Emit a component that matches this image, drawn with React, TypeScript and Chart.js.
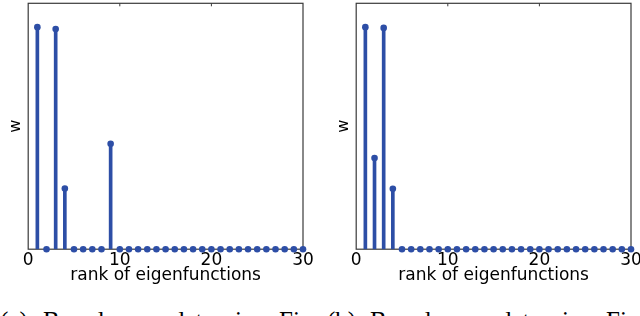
import React, { useEffect, useRef } from 'react';
import { Chart, registerables } from 'chart.js';

Chart.register(...registerables);

// ---- data ----
const ranks = [1, 2, 3, 4, 5, 6, 7, 8, 9, 10, 11, 12, 13, 14, 15, 16, 17, 18, 19, 20, 21, 22, 23, 24, 25, 26, 27, 28, 29, 30];
const weightsA = [0.903, 0, 0.895, 0.247, 0, 0, 0, 0, 0.429, 0, 0, 0, 0, 0, 0, 0, 0, 0, 0, 0, 0, 0, 0, 0, 0, 0, 0, 0, 0, 0];
const weightsB = [0.903, 0.371, 0.9, 0.246, 0, 0, 0, 0, 0, 0, 0, 0, 0, 0, 0, 0, 0, 0, 0, 0, 0, 0, 0, 0, 0, 0, 0, 0, 0, 0];
const xAxisTitle = 'rank of eigenfunctions';
const yAxisTitle = 'w';
const captionA = ['(a)', 'Based', 'on', 'data', 'in', 'Fig.'];
const captionB = ['(b)', 'Based', 'on', 'data', 'in', 'Fig.'];

// ---- style / layout ----
const STEM = '#2d4ea6';
const SANS = '"DejaVu Sans", Verdana, sans-serif';
const WORD_X = [0, 43, 126, 172, 235, 279];

const framePlugin = {
  id: 'frame',
  beforeDatasetsDraw(chart: any) {
    const { ctx, chartArea } = chart;
    const { left, right, top, bottom } = chartArea;
    ctx.save();
    ctx.strokeStyle = '#3a3a3a';
    ctx.lineWidth = 1.2;
    ctx.strokeRect(left, top, right - left, bottom - top);
    const xs = chart.scales.x;
    ctx.lineWidth = 1;
    xs.ticks.forEach((t: any) => {
      const px = xs.getPixelForValue(t.value);
      if (px <= left + 1 || px >= right - 1) return;
      ctx.beginPath();
      ctx.moveTo(px, top);
      ctx.lineTo(px, top + 3);
      ctx.moveTo(px, bottom);
      ctx.lineTo(px, bottom - 3);
      ctx.stroke();
    });
    ctx.restore();
  },
};

function Panel({ values, x }: { values: number[]; x: number }) {
  const ref = useRef<HTMLCanvasElement | null>(null);
  useEffect(() => {
    if (!ref.current) return;
    const pts = ranks.map((r, i) => ({ x: r, y: values[i] }));
    const chart = new Chart(ref.current, {
      type: 'bar',
      data: {
        datasets: [
          {
            type: 'scatter' as any,
            data: pts,
            backgroundColor: STEM,
            borderColor: STEM,
            pointRadius: 3.3,
            pointHoverRadius: 3.3,
            borderWidth: 0,
            clip: false as any,
            order: 0,
          },
          {
            type: 'bar',
            data: pts as any,
            backgroundColor: STEM,
            borderWidth: 0,
            barThickness: 3,
            order: 1,
          },
        ],
      },
      options: {
        responsive: false,
        animation: false,
        events: [],
        layout: { padding: { left: 1, right: 17, top: 2, bottom: 0 } },
        plugins: { legend: { display: false }, tooltip: { enabled: false } },
        scales: {
          x: {
            type: 'linear',
            min: 0,
            max: 30,
            offset: false,
            grid: { display: false, drawTicks: false },
            border: { display: false },
            ticks: { stepSize: 10, color: '#000', font: { family: SANS, size: 17 }, padding: 1, maxRotation: 0 },
            title: {
              display: true,
              text: xAxisTitle,
              color: '#000',
              font: { family: SANS, size: 17 },
              padding: { top: -6, bottom: 0 },
            },
          },
          y: {
            min: 0,
            max: 1,
            grid: { display: false, drawTicks: false },
            border: { display: false },
            ticks: { display: false },
            title: {
              display: true,
              text: yAxisTitle,
              color: '#000',
              font: { family: SANS, size: 16 },
              padding: { top: 5, bottom: 3 },
            },
          },
        },
      },
      plugins: [framePlugin],
    });
    return () => chart.destroy();
  }, [values]);
  return (
    <canvas
      ref={ref}
      width={320}
      height={286}
      style={{ position: 'absolute', left: x, top: 0, width: 320, height: 286 }}
    />
  );
}

function Caption({ words, x }: { words: string[]; x: number }) {
  return (
    <>
      {words.map((w, i) => (
        <span
          key={i}
          style={{
            position: 'absolute',
            left: x + WORD_X[i],
            top: 308,
            fontFamily: '"Liberation Serif", "Times New Roman", serif',
            fontSize: 25,
            lineHeight: '25px',
            whiteSpace: 'nowrap',
            color: '#000',
          }}
        >
          {w}
        </span>
      ))}
    </>
  );
}

export default function App() {
  return (
    <div
      style={{
        position: 'fixed',
        left: 0,
        top: 0,
        width: 640,
        height: 316,
        overflow: 'hidden',
        background: '#fff',
      }}
    >
      <Panel values={weightsA} x={0} />
      <Panel values={weightsB} x={328} />
      <Caption words={captionA} x={0} />
      <Caption words={captionB} x={327} />
    </div>
  );
}
